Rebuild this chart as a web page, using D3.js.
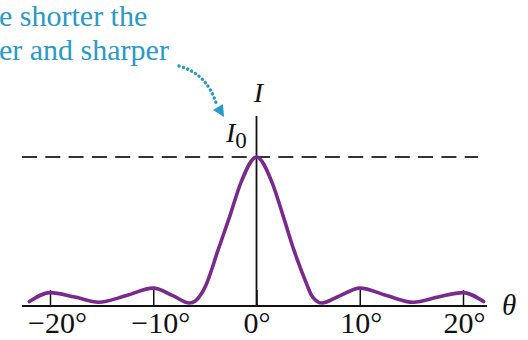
<!DOCTYPE html>
<html>
<head>
<meta charset="utf-8">
<script src="https://cdn.jsdelivr.net/npm/d3@7"></script>
<style>
  html, body { margin: 0; padding: 0; background: #fff; }
  svg { display: block; }
  text { font-family: "Liberation Serif", "DejaVu Serif", serif; }
</style>
</head>
<body>
<svg id="chart" width="528" height="340"></svg>
<script>
// Diffraction intensity profile, angle in degrees vs. relative intensity I/I0
const angles = [-22, -20, -17.6, -15.3, -12.6, -10, -8.1, -6.5, -5.9, -5.4, -4.9, -3.7, -2.6, -1.5, 0,
                1.5, 2.6, 3.6, 4.9, 5.3, 5.8, 6.3, 8.1, 10, 12.6, 15.2, 17.6, 20, 22];
const intensity = [0.03, 0.09, 0.06, 0.025, 0.07, 0.12, 0.07, 0.02, 0.035, 0.075, 0.14, 0.38, 0.60, 0.83, 1.0,
                   0.83, 0.60, 0.38, 0.14, 0.075, 0.035, 0.02, 0.07, 0.12, 0.07, 0.025, 0.06, 0.09, 0.03];
const tickValues = [-20, -10, 0, 10, 20];
const captionLines = ["e shorter the", "er and sharper"];

const svg = d3.select("#chart");

const x = d3.scaleLinear().domain([-20, 20]).range([50, 463]);
const y = d3.scaleLinear().domain([0, 1]).range([306, 157]);

// reference level I0
svg.append("line")
  .attr("x1", 22).attr("x2", 478)
  .attr("y1", y(1)).attr("y2", y(1))
  .attr("stroke", "#333").attr("stroke-width", 2)
  .attr("stroke-dasharray", "15 8.3");

// horizontal axis with upward ticks
const fmt = d => (d < 0 ? "\u2212" : "") + Math.abs(d) + "\u00b0";
const axis = d3.axisBottom(x)
  .tickValues(tickValues)
  .tickSizeInner(-16)
  .tickSizeOuter(0)
  .tickPadding(6)
  .tickFormat(fmt);

const gx = svg.append("g").attr("transform", `translate(0,${y(0)})`).call(axis);
gx.select(".domain").remove();
gx.selectAll(".tick line").attr("stroke", "#111").attr("stroke-width", 1.5);
gx.selectAll(".tick text")
  .attr("fill", "#111")
  .style("font-family", "'Liberation Serif', serif")
  .style("font-size", "30px")
  .attr("dx", d => d < 0 ? 7 : (d > 0 ? 1 : 0));

svg.append("line")
  .attr("x1", 22).attr("x2", 487)
  .attr("y1", y(0)).attr("y2", y(0))
  .attr("stroke", "#111").attr("stroke-width", 1.8);

// vertical axis
svg.append("line")
  .attr("x1", x(0)).attr("x2", x(0))
  .attr("y1", 116).attr("y2", y(0))
  .attr("stroke", "#111").attr("stroke-width", 1.8);

// intensity curve
const pts = angles.map((a, i) => [a, intensity[i]]);
const line = d3.line()
  .x(d => x(d[0]))
  .y(d => y(d[1]))
  .curve(d3.curveMonotoneX);

svg.append("path")
  .datum(pts)
  .attr("d", line)
  .attr("fill", "none")
  .attr("stroke", "#7a2a8c")
  .attr("stroke-width", 3.6)
  .attr("stroke-linecap", "round");

// axis labels
svg.append("text")
  .attr("x", x(0) + 2).attr("y", 102)
  .attr("text-anchor", "middle")
  .style("font-size", "28px").style("font-style", "italic")
  .attr("fill", "#111")
  .text("I");

const i0 = svg.append("text")
  .attr("x", 226).attr("y", 142)
  .style("font-size", "28px")
  .attr("fill", "#111");
i0.append("tspan").style("font-style", "italic").text("I");
i0.append("tspan").attr("dy", 6).style("font-size", "23px").text("0");

svg.append("text")
  .attr("x", 502).attr("y", 315)
  .style("font-size", "29px").style("font-style", "italic")
  .attr("fill", "#111")
  .text("\u03b8");

// caption
const caption = svg.append("text")
  .attr("fill", "#2a9ac6")
  .style("font-size", "30px");
captionLines.forEach((t, i) => {
  caption.append("tspan").attr("x", -1).attr("y", 26 + i * 34).text(t);
});

// dotted pointer to the peak
const pointer = d3.path();
pointer.moveTo(179, 66);
pointer.quadraticCurveTo(208, 74, 217, 106);
svg.append("path")
  .attr("d", pointer.toString())
  .attr("fill", "none")
  .attr("stroke", "#2a9ac6")
  .attr("stroke-width", 3.4)
  .attr("stroke-linecap", "round")
  .attr("stroke-dasharray", "0.1 4.4");

svg.append("path")
  .attr("d", d3.line()([[213, 110], [223, 104], [224, 117]]) + "Z")
  .attr("fill", "#2a9ac6");
</script>
</body>
</html>
